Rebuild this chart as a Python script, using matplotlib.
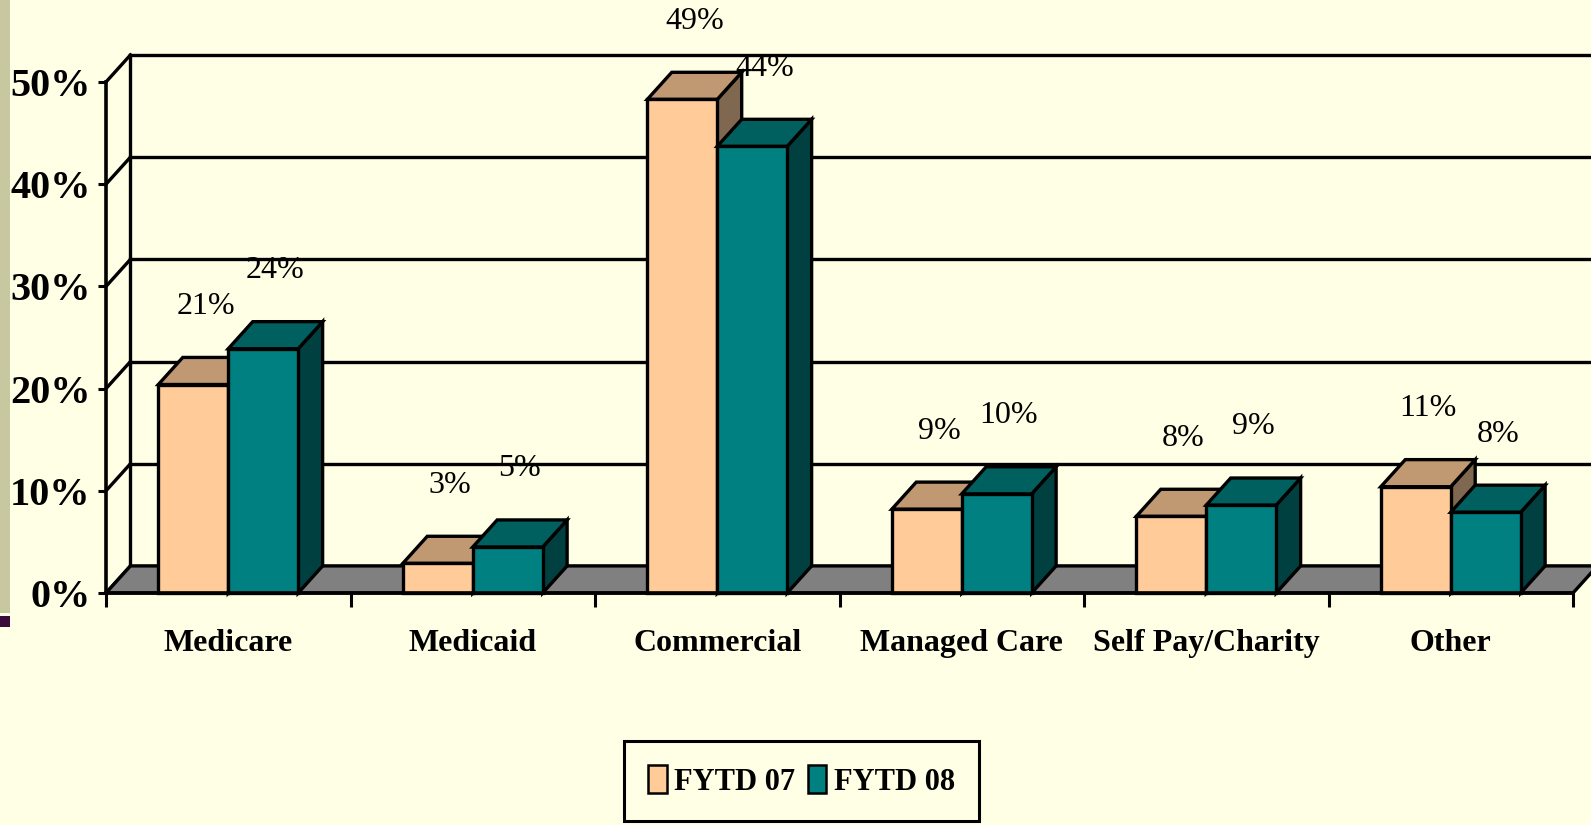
import matplotlib
matplotlib.use("Agg")
import matplotlib.pyplot as plt
from matplotlib.patches import Rectangle, Polygon, Patch

plt.rcParams["font.family"] = ["Liberation Serif", "DejaVu Serif"]

# data
categories = ["Medicare", "Medicaid", "Commercial", "Managed Care", "Self Pay/Charity", "Other"]
series_names = ["FYTD 07", "FYTD 08"]
fytd07 = [20.4, 2.9, 48.3, 8.2, 7.5, 10.4]
fytd08 = [23.9, 4.5, 43.7, 9.7, 8.6, 7.9]
fytd07_labels = ["21%", "3%", "49%", "9%", "8%", "11%"]
fytd08_labels = ["24%", "5%", "44%", "10%", "9%", "8%"]
yticks = [0, 10, 20, 30, 40, 50]

bg = "#FFFFE5"
front_cols = ["#FFCC99", "#008080"]
top_cols = ["#C09872", "#006060"]
side_cols = ["#806850", "#004040"]

W, H = 1591, 825
fig = plt.figure(figsize=(W / 100, H / 100), dpi=100, facecolor=bg)

# left decoration stripe
fig.patches.append(Rectangle((0, 1 - 613 / H), 10 / W, 613 / H, transform=fig.transFigure,
                             fc="#C8C8A0", ec="none"))
fig.patches.append(Rectangle((0, 1 - 627 / H), 10 / W, 11 / H, transform=fig.transFigure,
                             fc="#3A0A3A", ec="none"))

ax = fig.add_axes([106 / W, 232 / H, 1467 / W, 511 / H])
ax.set_xlim(0, 6)
ax.set_ylim(0, 50)
ax.set_facecolor("none")

# 3d depth offset in data units
dx = 0.1
dy = 2.65
lw = 2.4

# back wall grid lines and diagonals
for v in yticks:
    ax.plot([dx, 6 + dx + 0.3], [v + dy, v + dy], color="black", lw=lw, clip_on=False, zorder=1)
    ax.plot([0, dx], [v, v + dy], color="black", lw=lw, clip_on=False, zorder=1)
ax.plot([dx, dx], [dy, 50 + dy], color="black", lw=lw, clip_on=False, zorder=1)

# floor
ax.add_patch(Polygon([(0, 0), (6, 0), (6 + dx, dy), (dx, dy)], closed=True,
                     fc="#808080", ec="black", lw=lw, clip_on=False, zorder=2))

bw = 0.286
z = 3
for i in range(len(categories)):
    for s, (vals, labs) in enumerate([(fytd07, fytd07_labels), (fytd08, fytd08_labels)]):
        h = vals[i]
        x0 = i + 0.5 - bw + s * bw
        side = Polygon([(x0 + bw, 0), (x0 + bw + dx, dy), (x0 + bw + dx, h + dy), (x0 + bw, h)],
                       closed=True, fc=side_cols[s], ec="black", lw=lw, clip_on=False, zorder=z)
        top = Polygon([(x0, h), (x0 + bw, h), (x0 + bw + dx, h + dy), (x0 + dx, h + dy)],
                      closed=True, fc=top_cols[s], ec="black", lw=lw, clip_on=False, zorder=z)
        front = Rectangle((x0, 0), bw, h, fc=front_cols[s], ec="black", lw=lw,
                          clip_on=False, zorder=z)
        for p in (side, top, front):
            ax.add_patch(p)
        ax.text(x0 + bw / 2 + dx / 2, h + dy + 5.0, labs[i], ha="center", va="center",
                fontsize=23, zorder=20, clip_on=False)
        z += 1

# axes
for sp in ["top", "right"]:
    ax.spines[sp].set_visible(False)
for sp in ["left", "bottom"]:
    ax.spines[sp].set_linewidth(2.6)
    ax.spines[sp].set_zorder(15)

ax.set_yticks(yticks)
ax.set_yticklabels([f"{v}%" for v in yticks], fontsize=29, fontweight="bold")
ax.tick_params(axis="y", length=6, width=2.2, pad=5)

ax.set_xticks(range(7))
ax.set_xticklabels([])
ax.tick_params(axis="x", which="major", length=10, width=2.2)
ax.set_xticks([i + 0.5 for i in range(6)], minor=True)
ax.set_xticklabels(categories, minor=True, fontsize=23, fontweight="bold")
ax.tick_params(axis="x", which="minor", length=0, pad=26)

handles = [Patch(fc=c, ec="black", lw=1.8) for c in front_cols]
leg = fig.legend(handles, series_names, loc="upper left", bbox_to_anchor=(624 / W, 1 - 741 / H),
                 borderaxespad=0, ncol=2, frameon=True, fancybox=False, edgecolor="black",
                 facecolor=bg, framealpha=1, prop={"size": 22, "weight": "bold"},
                 handlelength=0.6, handleheight=1.0, handletextpad=0.25, columnspacing=0.4,
                 borderpad=0.8)
leg.get_frame().set_linewidth(2.2)

fig.savefig("out.png", dpi=100, facecolor=bg)
